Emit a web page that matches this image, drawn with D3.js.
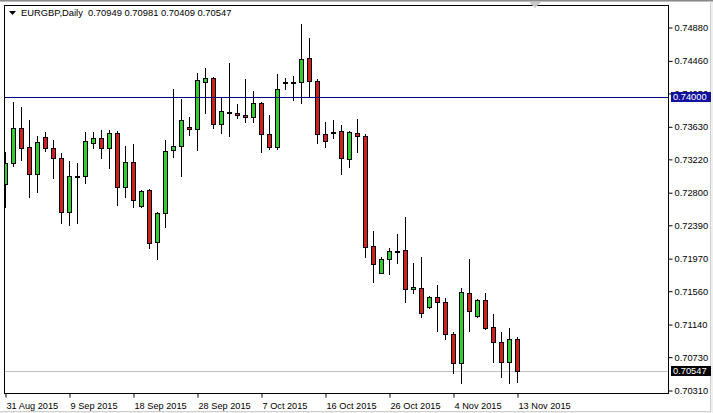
<!DOCTYPE html>
<html>
<head>
<meta charset="utf-8">
<script src="https://cdn.jsdelivr.net/npm/d3@7"></script>
<style>
html,body{margin:0;padding:0;background:#fff;}
svg{display:block;}
</style>
</head>
<body>
<svg id="chart" width="713" height="413"></svg>
<script>
const symbol = "EURGBP,Daily";
const dates = [
 "2015-08-31","2015-09-01","2015-09-02","2015-09-03","2015-09-04",
 "2015-09-06","2015-09-07","2015-09-08","2015-09-09","2015-09-10","2015-09-11",
 "2015-09-13","2015-09-14","2015-09-15","2015-09-16","2015-09-17","2015-09-18",
 "2015-09-20","2015-09-21","2015-09-22","2015-09-23","2015-09-24","2015-09-25",
 "2015-09-27","2015-09-28","2015-09-29","2015-09-30","2015-10-01","2015-10-02",
 "2015-10-04","2015-10-05","2015-10-06","2015-10-07","2015-10-08","2015-10-09",
 "2015-10-11","2015-10-12","2015-10-13","2015-10-14","2015-10-15","2015-10-16",
 "2015-10-18","2015-10-19","2015-10-20","2015-10-21","2015-10-22","2015-10-23",
 "2015-10-25","2015-10-26","2015-10-27","2015-10-28","2015-10-29","2015-10-30",
 "2015-11-01","2015-11-02","2015-11-03","2015-11-04","2015-11-05","2015-11-06",
 "2015-11-08","2015-11-09","2015-11-10","2015-11-11","2015-11-12","2015-11-13"
];
const open = [
 0.72903,0.73168,0.73608,0.73369,0.73029,0.73495,0.73357,0.73231,0.72551,0.73004,
 0.73004,0.73420,0.73483,0.73357,0.73545,0.72866,0.73180,0.72626,0.72828,0.72173,
 0.72538,0.73331,0.73382,0.73621,0.73596,0.74188,0.74238,0.73659,0.73810,0.73797,
 0.73772,0.73747,0.73923,0.73533,0.73369,0.74188,0.74188,0.74188,0.74490,0.74200,
 0.73533,0.73558,0.73571,0.73218,0.73545,0.73508,0.72123,0.71783,0.71959,0.72060,
 0.72072,0.71581,0.71594,0.71355,0.71481,0.71418,0.71015,0.70650,0.71531,0.71241,
 0.71443,0.71103,0.70914,0.70662,0.70949
];
const high = [
 0.73306,0.73936,0.73873,0.73709,0.73508,0.73558,0.73457,0.73294,0.73193,0.73168,
 0.73558,0.73558,0.73583,0.73583,0.73571,0.73382,0.73407,0.72828,0.72840,0.72551,
 0.73457,0.74099,0.73974,0.73747,0.74301,0.74364,0.74245,0.73986,0.74427,0.73911,
 0.74225,0.74074,0.73936,0.73772,0.74288,0.74238,0.74263,0.74918,0.74742,0.74225,
 0.73684,0.73709,0.73646,0.73571,0.73722,0.73533,0.72312,0.71984,0.72098,0.72274,
 0.72488,0.71909,0.71984,0.71493,0.71632,0.71468,0.71040,0.71594,0.71959,0.71456,
 0.71531,0.71267,0.71040,0.71090,0.70981
];
const low = [
 0.72614,0.73130,0.73206,0.72740,0.72803,0.73319,0.72979,0.72412,0.72387,0.72412,
 0.72916,0.73357,0.73231,0.73105,0.72639,0.72740,0.72614,0.72614,0.72098,0.71959,
 0.72362,0.73243,0.73004,0.73520,0.73331,0.73797,0.73608,0.73545,0.73508,0.73734,
 0.73684,0.73684,0.73306,0.73344,0.73344,0.74099,0.73961,0.73923,0.73999,0.73420,
 0.73369,0.73483,0.73029,0.73117,0.73306,0.71984,0.71670,0.71783,0.71770,0.71909,
 0.71418,0.71531,0.71229,0.71342,0.71053,0.70952,0.70524,0.70398,0.71053,0.71229,
 0.71078,0.70662,0.70474,0.70398,0.70409
];
const close = [
 0.73168,0.73608,0.73357,0.73029,0.73432,0.73357,0.73231,0.72551,0.73004,0.73004,
 0.73445,0.73483,0.73357,0.73545,0.72866,0.73180,0.72702,0.72815,0.72161,0.72538,
 0.73319,0.73382,0.73709,0.73596,0.74213,0.74238,0.73659,0.73822,0.73810,0.73772,
 0.73747,0.73923,0.73533,0.73369,0.74099,0.74188,0.74188,0.74477,0.74200,0.73533,
 0.73445,0.73558,0.73231,0.73558,0.73508,0.72110,0.71896,0.71959,0.72060,0.72060,
 0.71581,0.71607,0.71279,0.71481,0.71418,0.71015,0.70650,0.71544,0.71304,0.71443,
 0.71090,0.70914,0.70662,0.70952,0.70547
];
const priceTicks = [0.74880,0.74460,0.74050,0.73630,0.73220,0.72800,0.72390,0.71970,0.71560,0.71140,0.70730,0.70310];
const dateTickLabels = ["31 Aug 2015","9 Sep 2015","18 Sep 2015","28 Sep 2015","7 Oct 2015","16 Oct 2015","26 Oct 2015","4 Nov 2015","13 Nov 2015"];
const dateTickDates = ["2015-08-31","2015-09-09","2015-09-18","2015-09-28","2015-10-07","2015-10-16","2015-10-26","2015-11-04","2015-11-13"];
const levelLine = 0.74000;
const bidPrice = 0.70547;

const svg = d3.select("#chart");
const W = 713, H = 413;
const plot = {left: 4, right: 668, top: 5, bottom: 393};
const font = "'Liberation Sans', Arial, sans-serif";

// frame
svg.append("rect").attr("x",0).attr("y",0).attr("width",W).attr("height",H).attr("fill","#f0f0f0");
svg.append("rect").attr("x",0).attr("y",2).attr("width",711).attr("height",410).attr("fill","#fff");
svg.append("line").attr("x1",0).attr("x2",713).attr("y1",0.5).attr("y2",0.5).attr("stroke","#8a8a8a").attr("stroke-width",2);
svg.append("line").attr("x1",710.5).attr("x2",710.5).attr("y1",1).attr("y2",412).attr("stroke","#cfcfcf");
svg.append("line").attr("x1",0).attr("x2",711).attr("y1",411.5).attr("y2",411.5).attr("stroke","#cfcfcf");

const x = d3.scaleLinear().domain([0, dates.length-1]).range([5, 5 + 8*(dates.length-1)]);
const y = d3.scaleLinear().domain([0.70310, 0.74880]).range([390, 27]);
const py = v => Math.round(y(v));

const data = dates.map((d,i)=>({date:d, i, o:open[i], h:high[i], l:low[i], c:close[i]}));

svg.append("clipPath").attr("id","clip").append("rect")
  .attr("x",plot.left+1).attr("y",plot.top+1).attr("width",plot.right-plot.left-1).attr("height",plot.bottom-plot.top-1);
const g = svg.append("g").attr("clip-path","url(#clip)");

// bid line
g.append("line").attr("x1",plot.left).attr("x2",plot.right)
  .attr("y1",py(bidPrice)+0.5).attr("y2",py(bidPrice)+0.5).attr("stroke","#c0c0c0").attr("stroke-width",1);

// candles
const cg = g.selectAll("g.candle").data(data).join("g").attr("class","candle");
cg.append("line")
  .attr("x1",d=>Math.round(x(d.i))+0.5).attr("x2",d=>Math.round(x(d.i))+0.5)
  .attr("y1",d=>py(d.h)).attr("y2",d=>py(d.l)+1)
  .attr("stroke","#000").attr("stroke-width",1).attr("shape-rendering","crispEdges");
cg.filter(d=>d.o!==d.c).append("rect")
  .attr("x",d=>Math.round(x(d.i))-2+0.5)
  .attr("y",d=>Math.min(py(d.o),py(d.c))+0.5)
  .attr("width",4)
  .attr("height",d=>Math.max(1,Math.abs(py(d.o)-py(d.c))))
  .attr("fill",d=>d.c>d.o?"#33cc33":"#cc2222")
  .attr("stroke","#000").attr("stroke-width",1).attr("shape-rendering","crispEdges");
cg.filter(d=>d.o===d.c).append("rect")
  .attr("x",d=>Math.round(x(d.i))-2)
  .attr("y",d=>py(d.o)-0.5)
  .attr("width",5).attr("height",2)
  .attr("fill","#000").attr("shape-rendering","crispEdges");

// level line
g.append("line").attr("x1",plot.left).attr("x2",plot.right)
  .attr("y1",py(levelLine)+0.5).attr("y2",py(levelLine)+0.5).attr("stroke","#000080").attr("stroke-width",1);

// plot border
svg.append("rect").attr("x",plot.left+0.5).attr("y",plot.top+0.5)
  .attr("width",plot.right-plot.left).attr("height",plot.bottom-plot.top)
  .attr("fill","none").attr("stroke","#000").attr("stroke-width",1);

// right axis
const yAxis = d3.axisRight(y).tickValues(priceTicks).tickSize(4).tickPadding(2).tickFormat(d3.format(".5f"));
const ya = svg.append("g").attr("transform",`translate(${plot.right+0.5},0.5)`).call(yAxis);
ya.select(".domain").remove();
ya.selectAll("text").attr("font-family",font).attr("font-size","9.3px").attr("fill","#000");
ya.selectAll("line").attr("stroke","#000");

// x axis
const dateIndex = d => dates.indexOf(d);
const xAxis = d3.axisBottom(x).tickValues(dateTickDates.map(dateIndex)).tickSize(4)
  .tickFormat((d,i)=>dateTickLabels[i]);
const xa = svg.append("g").attr("transform",`translate(0.5,${plot.bottom+0.5})`).call(xAxis);
xa.select(".domain").remove();
xa.selectAll("line").attr("stroke","#000");
xa.selectAll("text").attr("font-family",font).attr("font-size","9.2px").attr("fill","#000")
  .attr("text-anchor","start").attr("x",0.5).attr("y",9).attr("dy","0.71em");

// price labels
function priceLabel(v, bg){
  const yy = py(v);
  svg.append("rect").attr("x",671).attr("y",yy-5).attr("width",40).attr("height",10).attr("fill",bg);
  svg.append("text").attr("x",673).attr("y",yy).attr("dy","0.35em")
    .attr("font-family",font).attr("font-size","9.3px").attr("fill","#fff").text(d3.format(".5f")(v));
}
priceLabel(levelLine, "#12129e");
priceLabel(bidPrice, "#000");

// header
svg.append("path").attr("d","M9,11 L16,11 L12.5,15 Z").attr("fill","#000");
const last = data[data.length-1];
svg.append("text").attr("x",21).attr("y",16).attr("font-family",font).attr("font-size","9.4px").attr("fill","#000")
  .attr("xml:space","preserve")
  .text(`${symbol}  ${d3.format(".5f")(last.o)} ${d3.format(".5f")(last.h)} ${d3.format(".5f")(last.l)} ${d3.format(".5f")(last.c)}`);

// shift marker
svg.append("path").attr("d","M529,2 L541,2 L535,8 Z").attr("fill","#c8c8c8");
</script>
</body>
</html>
